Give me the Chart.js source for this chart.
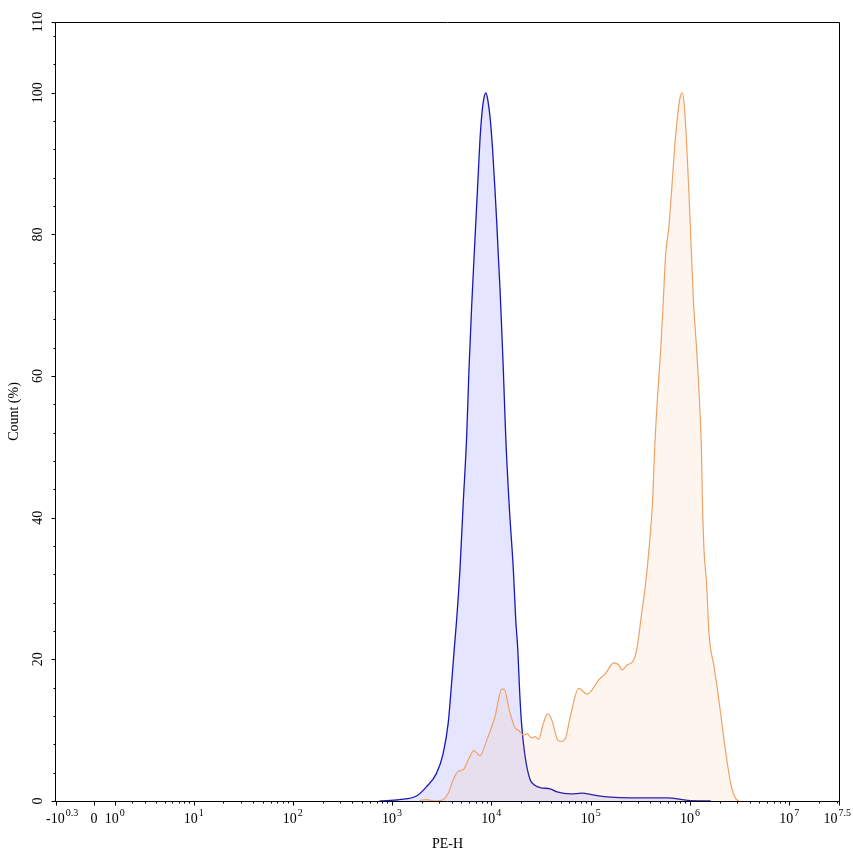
<!DOCTYPE html>
<html>
<head>
<meta charset="utf-8">
<script src="https://cdn.jsdelivr.net/npm/chart.js@4.4.1/dist/chart.umd.min.js"></script>
<style>
html,body{margin:0;padding:0;background:#fff;}
#wrap{width:853px;height:856px;position:relative;}
</style>
</head>
<body>
<div id="wrap"><canvas id="c" width="853" height="856"></canvas></div>
<script>
// ---------- chart text ----------
const xAxisTitle = 'PE-H';
const yAxisTitle = 'Count (%)';

// ---------- axis ticks ----------
// x axis (biexponential display): tick values and labels [base, superscript]
const xTickValues = [-1.9953, 0, 1, 10, 100, 1000, 10000, 100000, 1000000, 10000000, 31622777];
const xTickLabels = [['-10','0.3'], ['0',''], ['10','0'], ['10','1'], ['10','2'], ['10','3'], ['10','4'], ['10','5'], ['10','6'], ['10','7'], ['10','7.5']];
const xMinorMantissas = [2, 3, 4, 5, 6, 7, 8, 9];
const yTickValues = [0, 20, 40, 60, 80, 100, 110];
const yTickLabels = ['0', '20', '40', '60', '80', '100', '110'];
const yMinorStep = 4;

// ---------- series 1 (blue): log10(PE-H) and Count (%) ----------
const blueLogPE = [2.876, 3.076, 3.246, 3.347, 3.448, 3.515, 3.566, 3.600, 3.626, 3.651, 3.684, 3.717, 3.752, 3.775, 3.802, 3.835, 3.869, 3.886, 3.909, 3.926, 3.946, 3.962, 3.987, 4.012, 4.037, 4.055, 4.071, 4.088, 4.105, 4.121, 4.145, 4.179, 4.222, 4.246, 4.267, 4.285, 4.307, 4.340, 4.391, 4.442, 4.492, 4.593, 4.661, 4.795, 4.913, 5.027, 5.199, 5.401, 5.633, 5.775, 5.977, 6.209];
const blueCount = [0, 0.2, 0.7, 2, 3.9, 6.7, 11, 16.6, 21.3, 25.6, 32.6, 42, 51.5, 60.9, 69.8, 79.2, 88.7, 93.4, 97.6, 99.3, 100, 99.2, 96.6, 92.2, 86.3, 81.6, 76.9, 72.2, 66.5, 60.9, 51.5, 42, 32.6, 25.6, 21.3, 15.5, 10.5, 6.3, 3, 2.2, 1.9, 1.7, 1.3, 1, 1.1, 0.85, 0.55, 0.45, 0.45, 0.45, 0.1, 0];

// ---------- series 2 (orange): log10(PE-H) and Count (%) ----------
const orangeLogPE = [3.278, 3.347, 3.431, 3.499, 3.566, 3.616, 3.667, 3.717, 3.768, 3.825, 3.886, 3.954, 4.037, 4.105, 4.128, 4.189, 4.239, 4.273, 4.323, 4.358, 4.408, 4.441, 4.475, 4.525, 4.566, 4.610, 4.661, 4.694, 4.744, 4.795, 4.879, 4.964, 5.014, 5.081, 5.149, 5.232, 5.283, 5.317, 5.368, 5.434, 5.469, 5.509, 5.553, 5.587, 5.624, 5.644, 5.671, 5.705, 5.732, 5.755, 5.788, 5.822, 5.856, 5.896, 5.923, 5.947, 5.990, 6.034, 6.067, 6.095, 6.115, 6.125, 6.141, 6.168, 6.191, 6.242, 6.277, 6.311, 6.361, 6.412, 6.462, 6.492];
const orangeCount = [0.1, 0.2, 0, 0.1, 1.1, 3, 4.2, 4.4, 5.8, 7.1, 6.4, 8.6, 11.9, 15.8, 15.8, 12.4, 10.3, 10, 9.3, 9.5, 8.9, 9.1, 8.7, 11, 12.3, 11.4, 8.8, 8.4, 8.8, 11.9, 15.9, 15.1, 15.7, 17.1, 18, 19.5, 19.2, 18.5, 19.2, 19.9, 21.8, 26, 30.7, 35.5, 42.5, 49.6, 56.6, 63.7, 70.8, 77.2, 81.1, 87.6, 94.1, 99, 100, 97.4, 85.7, 70.8, 63.7, 56.6, 49.6, 42.5, 35.5, 30.5, 23.7, 19, 15.7, 12.1, 6.8, 2.3, 0.3, 0];

// ---------- biexponential-like (asinh) scale ----------
const asinhT = v => Math.asinh(v / 2) / Math.LN10;
const asinhInv = t => 2 * Math.sinh(t * Math.LN10);
class AsinhScale extends Chart.LinearScale {
  static id = 'asinh';
  static defaults = {};
  determineDataLimits() { this.min = this.options.min; this.max = this.options.max; }
  buildTicks() { return xTickValues.map(v => ({ value: v })); }
  configure() {
    super.configure();
    this._tMin = asinhT(this.min);
    this._tRange = asinhT(this.max) - this._tMin;
  }
  getPixelForValue(v) { return this.getPixelForDecimal((asinhT(v) - this._tMin) / this._tRange); }
  getValueForPixel(p) { return asinhInv(this._tMin + this.getDecimalForPixel(p) * this._tRange); }
}
Chart.register(AsinhScale);

const FONT = '"Liberation Serif", "Times New Roman", serif';

const axesPlugin = {
  id: 'axesPlugin',
  afterDraw(chart) {
    const { ctx, chartArea: a, scales } = chart;
    const xs = scales.x, ys = scales.y;
    ctx.save();
    ctx.strokeStyle = '#000';
    ctx.lineWidth = 1;
    const L = Math.round(a.left) - 0.5, R = Math.round(a.right) + 0.5;
    const T = Math.round(a.top) + 0.5, B = Math.round(a.bottom) + 0.5;
    ctx.beginPath();
    ctx.rect(L, T, R - L, B - T);
    ctx.stroke();

    // x ticks
    ctx.beginPath();
    xTickValues.forEach(v => {
      const p = Math.round(xs.getPixelForValue(v)) + 0.5;
      ctx.moveTo(p, B); ctx.lineTo(p, B + 4);
    });
    for (let k = 0; k <= 7; k++) {
      xMinorMantissas.forEach(m => {
        const v = m * Math.pow(10, k);
        if (v >= xs.max) return;
        const p = Math.round(xs.getPixelForValue(v)) + 0.5;
        ctx.moveTo(p, B); ctx.lineTo(p, B + 2);
      });
    }
    // y ticks
    for (let v = 0; v <= ys.max + 0.001; v += yMinorStep) {
      const p = Math.round(ys.getPixelForValue(v)) + 0.5;
      ctx.moveTo(L, p); ctx.lineTo(L - 2, p);
    }
    yTickValues.forEach(v => {
      const p = Math.round(ys.getPixelForValue(v)) + 0.5;
      ctx.moveTo(L, p); ctx.lineTo(L - 4, p);
    });
    ctx.stroke();

    ctx.fillStyle = '#000';
    // x labels with superscripts
    const baseFont = '14px ' + FONT, supFont = '10px ' + FONT;
    ctx.textBaseline = 'alphabetic';
    ctx.textAlign = 'left';
    xTickValues.forEach((v, i) => {
      const [base, sup] = xTickLabels[i];
      ctx.font = baseFont; const wb = ctx.measureText(base).width;
      ctx.font = supFont; const ws = sup ? ctx.measureText(sup).width + 1 : 0;
      const w = wb + ws;
      let x0 = xs.getPixelForValue(v) - w / 2;
      if (x0 < 46) x0 = 46;
      if (x0 + w > 851) x0 = 851 - w;
      ctx.font = baseFont; ctx.fillText(base, x0, 823);
      if (sup) { ctx.font = supFont; ctx.fillText(sup, x0 + wb + 1, 816); }
    });
    // y labels rotated
    ctx.font = baseFont;
    ctx.textAlign = 'center';
    ctx.textBaseline = 'middle';
    yTickValues.forEach((v, i) => {
      const p = ys.getPixelForValue(v);
      ctx.save(); ctx.translate(38, p); ctx.rotate(-Math.PI / 2);
      ctx.fillText(yTickLabels[i], 0, 0); ctx.restore();
    });
    // axis titles
    ctx.save(); ctx.translate(14, (a.top + a.bottom) / 2); ctx.rotate(-Math.PI / 2);
    ctx.fillText(yAxisTitle, 0, 0); ctx.restore();
    ctx.fillText(xAxisTitle, (a.left + a.right) / 2, 844);
    ctx.restore();
  }
};

new Chart(document.getElementById('c'), {
  type: 'line',
  data: {
    datasets: [
      {
        label: 'orange',
        data: orangeLogPE.map((d, i) => ({ x: Math.pow(10, d), y: orangeCount[i] })),
        borderColor: '#eea266',
        backgroundColor: 'rgba(240,140,40,0.08)',
        borderWidth: 1.2,
        fill: 'origin',
        pointRadius: 0,
        cubicInterpolationMode: 'monotone',
        order: 1
      },
      {
        label: 'blue',
        data: blueLogPE.map((d, i) => ({ x: Math.pow(10, d), y: blueCount[i] })),
        borderColor: '#1818b4',
        backgroundColor: 'rgba(0,0,255,0.1)',
        borderWidth: 1.3,
        fill: 'origin',
        pointRadius: 0,
        cubicInterpolationMode: 'monotone',
        order: 2
      }
    ]
  },
  options: {
    responsive: false,
    animation: false,
    layout: { padding: { left: 56, top: 22, right: 14, bottom: 55 } },
    plugins: { legend: { display: false }, tooltip: { enabled: false } },
    scales: {
      x: { type: 'asinh', display: false, min: -1.9953, max: 31622777, ticks: { callback: () => '' } },
      y: { type: 'linear', display: false, min: 0, max: 110 }
    }
  },
  plugins: [axesPlugin]
});
</script>
</body>
</html>
